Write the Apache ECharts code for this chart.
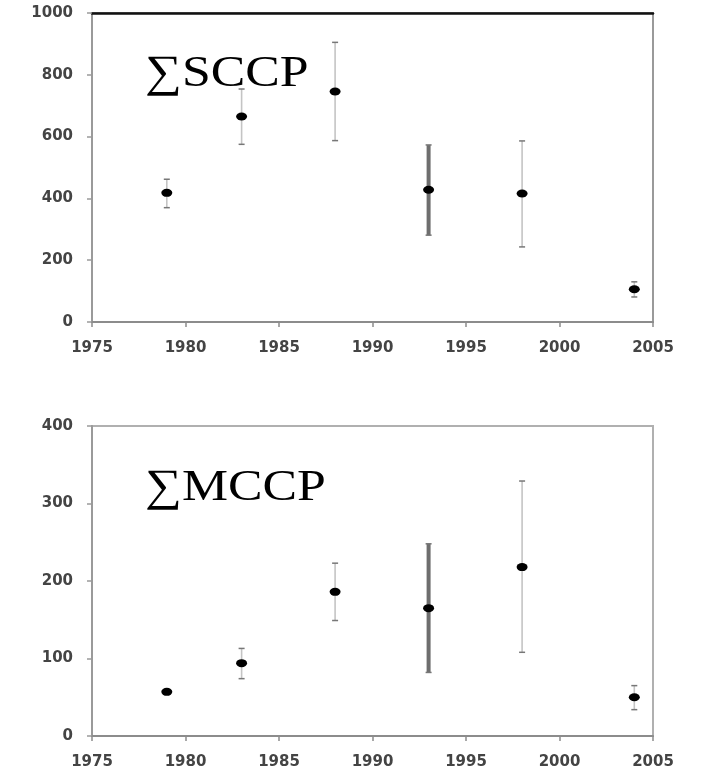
<!DOCTYPE html>
<html>
<head>
<meta charset="utf-8">
<script src="https://cdn.jsdelivr.net/npm/echarts@6/dist/echarts.min.js"></script>
<style>
  html, body { margin: 0; padding: 0; background: #fff; }
  #chart { width: 723px; height: 784px; }
</style>
</head>
<body>
<div id="chart"></div>
<script>
// sampling years, shared by both panels
const years = [1979, 1983, 1988, 1993, 1998, 2004];

// sum of short chain chlorinated paraffins
const sccpMean = [418, 665, 746, 428, 416, 106];
const sccpLow = [370, 575, 587, 281, 243, 81];
const sccpHigh = [462, 754, 905, 573, 586, 130];

// sum of medium chain chlorinated paraffins
const mccpMean = [57, 94, 186, 165, 218, 50];
const mccpLow = [57, 74, 149, 82, 108, 34];
const mccpHigh = [57, 113, 223, 248, 329, 65];

const xTicks = { min: 1975, max: 2005, interval: 5 };
const sccpTicks = { min: 0, max: 1000, interval: 200 };
const mccpTicks = { min: 0, max: 400, interval: 100 };

const thickYear = 1993; // this year's bar is drawn heavier in the original

const chart = echarts.init(document.getElementById('chart'));

function errorData(low, high) {
  return years.map((y, i) => [y, low[i], high[i]]);
}

function renderBar(params, api) {
  const x = api.value(0);
  const lo = api.coord([x, api.value(1)]);
  const hi = api.coord([x, api.value(2)]);
  if (api.value(1) === api.value(2)) return null;
  const heavy = x === thickYear;
  const cap = 3;
  return {
    type: 'group',
    children: [
      {
        type: 'line',
        shape: { x1: lo[0], y1: lo[1], x2: hi[0], y2: hi[1] },
        style: { stroke: heavy ? '#6e6e6e' : '#c4c4c4', lineWidth: heavy ? 4 : 1.6 }
      },
      {
        type: 'line',
        shape: { x1: hi[0] - cap, y1: hi[1], x2: hi[0] + cap, y2: hi[1] },
        style: { stroke: '#777', lineWidth: 1.5 }
      },
      {
        type: 'line',
        shape: { x1: lo[0] - cap, y1: lo[1], x2: lo[0] + cap, y2: lo[1] },
        style: { stroke: '#777', lineWidth: 1.5 }
      }
    ]
  };
}

const axisFont = { fontFamily: 'DejaVu Sans', fontWeight: 'bold', fontSize: 15, color: '#444' };

function xAxisFor(gridIndex) {
  return {
    type: 'value',
    gridIndex: gridIndex,
    min: xTicks.min,
    max: xTicks.max,
    interval: xTicks.interval,
    splitLine: { show: false },
    axisLine: { lineStyle: { color: '#8c8c8c', width: 2 } },
    axisTick: { length: 5, lineStyle: { color: '#8c8c8c', width: 1.5 } },
    axisLabel: Object.assign({ margin: 19, formatter: (v) => String(v) }, axisFont)
  };
}

function yAxisFor(gridIndex, ticks) {
  return {
    type: 'value',
    gridIndex: gridIndex,
    min: ticks.min,
    max: ticks.max,
    interval: ticks.interval,
    splitLine: { show: false },
    axisLine: { show: true, lineStyle: { color: '#9a9a9a', width: 2 } },
    axisTick: { show: true, length: 5, lineStyle: { color: '#9a9a9a', width: 1.5 } },
    axisLabel: Object.assign({ margin: 19, formatter: (v) => String(v) }, axisFont)
  };
}

const labelFont = '45px "Liberation Serif", "Times New Roman", serif';

const option = {
  animation: false,
  backgroundColor: '#fff',
  grid: [
    { left: 92, top: 13, width: 561, height: 309, show: true, borderColor: '#9a9a9a', borderWidth: 2 },
    { left: 92, top: 426, width: 561, height: 310, show: true, borderColor: '#b0b0b0', borderWidth: 2 }
  ],
  xAxis: [
    xAxisFor(0),
    xAxisFor(1),
    {
      // dark top frame of the upper panel
      type: 'value', gridIndex: 0, position: 'top',
      min: xTicks.min, max: xTicks.max,
      splitLine: { show: false },
      axisLine: { lineStyle: { color: '#111', width: 2.5 } },
      axisTick: { show: false },
      axisLabel: { show: false }
    }
  ],
  yAxis: [yAxisFor(0, sccpTicks), yAxisFor(1, mccpTicks)],
  graphic: [
    {
      type: 'text', x: 145, y: 74, scaleX: 1.15,
      style: { text: '∑SCCP', font: labelFont, fill: '#000', verticalAlign: 'middle' }
    },
    {
      type: 'text', x: 145, y: 488, scaleX: 1.15,
      style: { text: '∑MCCP', font: labelFont, fill: '#000', verticalAlign: 'middle' }
    }
  ],
  series: [
    {
      type: 'custom', xAxisIndex: 0, yAxisIndex: 0,
      renderItem: renderBar,
      encode: { x: 0, y: [1, 2] },
      data: errorData(sccpLow, sccpHigh),
      z: 2
    },
    {
      type: 'scatter', xAxisIndex: 0, yAxisIndex: 0,
      symbol: 'circle', symbolSize: [11, 8],
      itemStyle: { color: '#000', opacity: 1 },
      data: years.map((y, i) => [y, sccpMean[i]]),
      z: 3
    },
    {
      type: 'custom', xAxisIndex: 1, yAxisIndex: 1,
      renderItem: renderBar,
      encode: { x: 0, y: [1, 2] },
      data: errorData(mccpLow, mccpHigh),
      z: 2
    },
    {
      type: 'scatter', xAxisIndex: 1, yAxisIndex: 1,
      symbol: 'circle', symbolSize: [11, 8],
      itemStyle: { color: '#000', opacity: 1 },
      data: years.map((y, i) => [y, mccpMean[i]]),
      z: 3
    }
  ]
};

chart.setOption(option);
</script>
</body>
</html>
